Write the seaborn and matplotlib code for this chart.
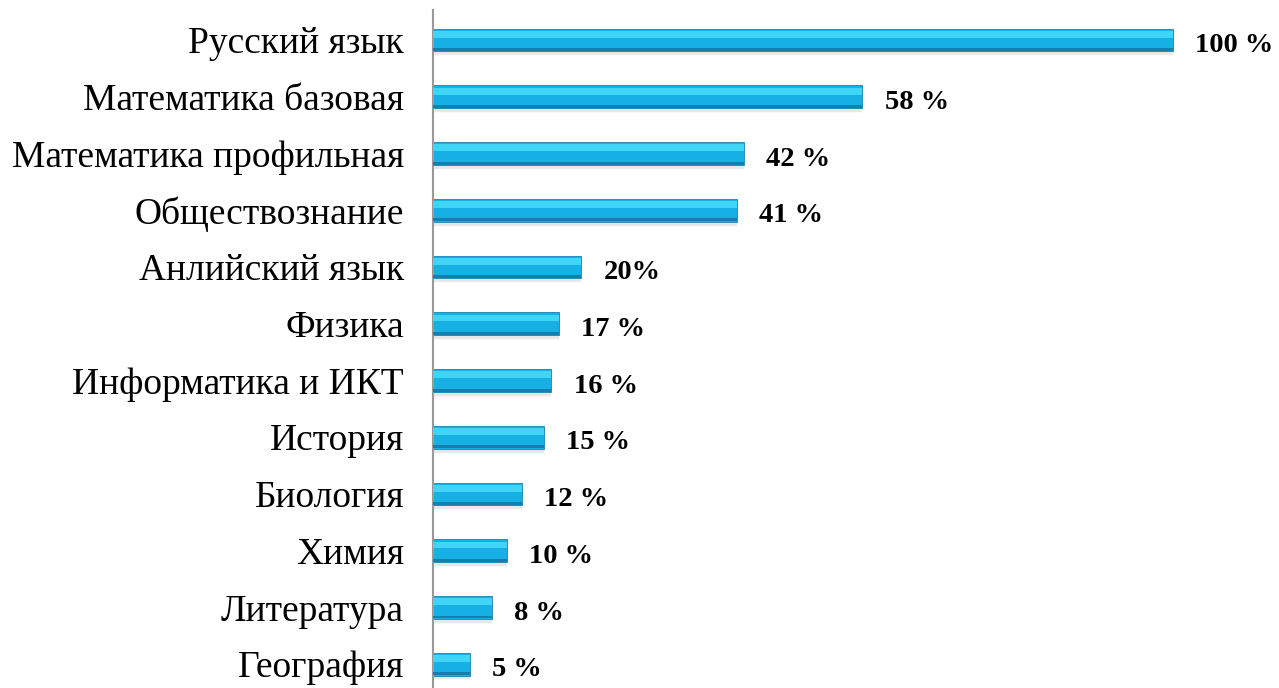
import seaborn as sns
import pandas as pd
import numpy as np
from matplotlib import pyplot as plt

# Данные
subjects = ['Русский язык', 'Математика базовая', 'Математика профильная', 'Обществознание',
            'Анлийский язык', 'Физика', 'Информатика и ИКТ', 'История', 'Биология',
            'Химия', 'Литература', 'География']
values = [100, 58, 42, 41, 20, 17, 16, 15, 12, 10, 8, 5]
value_labels = ['100 %', '58 %', '42 %', '41 %', '20%', '17 %', '16 %', '15 %', '12 %',
                '10 %', '8 %', '5 %']

df = pd.DataFrame({'Предмет': subjects, 'Процент': values})

sns.set_style('white')
plt.rcParams['font.family'] = ['Liberation Serif', 'DejaVu Serif']

fig = plt.figure(figsize=(12.79, 6.88), dpi=100)
ax = fig.add_axes([0.3386, 0.0, 0.6365, 0.9855])

# Тень под столбцами
pos = np.arange(len(values))
ax.barh(pos + 0.07, values, height=0.40, color='#d8d8d8', alpha=0.6, zorder=1)

# Основные столбцы
sns.barplot(data=df, y='Предмет', x='Процент', orient='h', color='#17b0e4',
            saturation=1, width=0.40, edgecolor='#1784b0', linewidth=0.6, ax=ax, zorder=2)

# Светлая полоса сверху и тёмная снизу (объём)
ax.barh(pos - 0.10, values, height=0.12, color='#40d4f6', linewidth=0, zorder=3)
ax.barh(pos + 0.17, values, height=0.05, color='#127fae', linewidth=0, zorder=3)

# Подписи значений (чуть ниже центра столбца, как в оригинале)
for i, (v, lab) in enumerate(zip(values, value_labels)):
    ax.text(v + 3.0, i + 0.1, lab, va='center', ha='left', fontsize=20.5, fontweight='bold',
            color='black')

ax.set_xlim(0, 110)
ax.set_ylim(11.42, -0.53)
ax.set_xlabel('')
ax.set_ylabel('')
ax.set_xticks([])
ax.tick_params(axis='y', length=0, pad=21, labelsize=27, labelcolor='black')
for s in ['top', 'right', 'bottom']:
    ax.spines[s].set_visible(False)
ax.spines['left'].set_color('#999999')
ax.spines['left'].set_linewidth(1.5)

plt.savefig('out.png', dpi=100)
